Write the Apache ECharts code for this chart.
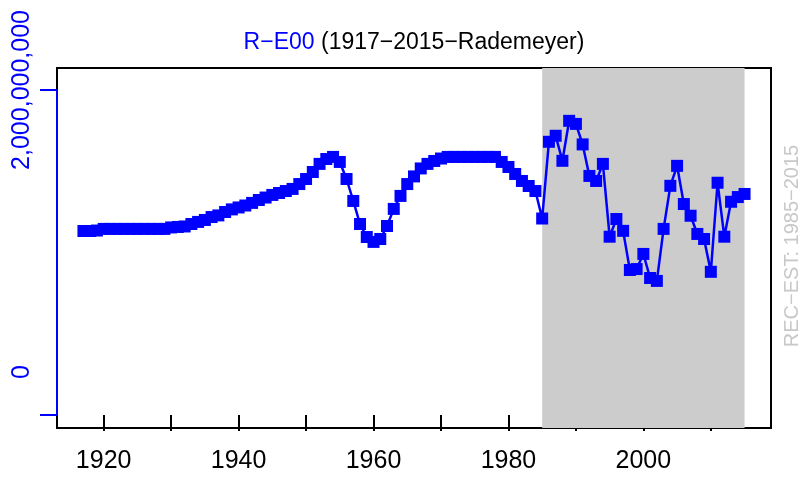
<!DOCTYPE html>
<html>
<head>
<meta charset="utf-8">
<script src="https://cdn.jsdelivr.net/npm/echarts@6/dist/echarts.min.js"></script>
<style>
html, body { margin: 0; padding: 0; background: #fff; }
#chart { width: 805px; height: 478px; }
</style>
</head>
<body>
<div id="chart"></div>
<script>
// biomass, millions, one value per year from firstYear
var firstYear = 1917;
var biomass = [
	1132, 1132, 1135,
	1145, 1145, 1145, 1145, 1145, 1145, 1145, 1145, 1145, 1145,
	1154, 1157, 1160, 1175, 1188, 1200, 1218, 1228, 1249, 1265,
	1277, 1289, 1305, 1323, 1338, 1354, 1366, 1378, 1391, 1421,
	1452, 1495, 1545, 1575, 1588, 1557, 1452, 1317, 1175, 1095,
	1065, 1083, 1163, 1268, 1348, 1421, 1468, 1517, 1545, 1563,
	1578, 1588, 1588, 1588, 1588, 1588, 1588, 1588, 1588, 1557,
	1526, 1483, 1440, 1409, 1378, 1209, 1681, 1718, 1564, 1810,
	1791, 1665, 1471, 1440, 1545, 1097, 1206, 1133, 892, 898,
	991, 843, 825, 1145, 1410, 1533, 1298, 1226, 1114, 1083,
	881, 1429, 1097, 1312, 1341, 1360
];
var recentPeriod = [1985, 2015];
var xTicks = [1920, 1930, 1940, 1950, 1960, 1970, 1980, 1990, 2000, 2010];
var xLabels = [1920, 1940, 1960, 1980, 2000];
var yTicks = [0, 2000000000];
var yLabelAt = [264000000, 2000000000];
var yLabelText = ['0', '2,000,000,000'];

(function () {
	var myChart = echarts.init(document.getElementById('chart'));
	var xMin = 1913.08, xMax = 2018.92;
	var points = biomass.map(function (v, i) { return [firstYear + i, v * 1e6]; });
	var font = 'Liberation Sans';
	var option = {
		animation: false,
		grid: {
			left: 57, right: 34, top: 68, bottom: 50,
			show: true, borderColor: '#000', borderWidth: 2, backgroundColor: 'transparent'
		},
		xAxis: {
			type: 'value', min: xMin, max: xMax,
			axisLine: { show: false },
			splitLine: { show: false },
			axisTick: { customValues: xTicks, length: 16, lineStyle: { color: '#000', width: 2 } },
			axisLabel: {
				customValues: xLabels, margin: 21, color: '#000', fontSize: 25, fontFamily: font,
				formatter: function (v) { return String(v); }
			}
		},
		yAxis: {
			type: 'value', min: -80000000, max: 2135000000,
			axisLine: { show: false },
			splitLine: { show: false },
			axisTick: { customValues: yTicks, length: 17, lineStyle: { color: '#0000ff', width: 2 } },
			axisLabel: {
				customValues: yLabelAt, rotate: 90, margin: 22, color: '#0000ff',
				fontSize: 25, fontFamily: font,
				formatter: function (v) { return yLabelText[yLabelAt.indexOf(v)]; }
			}
		},
		graphic: [
			{
				type: 'text', x: 414, y: 43,
				style: {
					text: '{a|R\u2212E00} {b|(1917\u22122015\u2212Rademeyer)}',
					align: 'center', verticalAlign: 'middle', font: '23px ' + font,
					rich: {
						a: { fill: '#0000ff', fontSize: 23, fontFamily: font },
						b: { fill: '#000', fontSize: 23, fontFamily: font }
					}
				}
			},
			{
				type: 'text', x: 792, y: 246, rotation: Math.PI / 2,
				style: {
					text: 'REC\u2212EST: 1985\u22122015', fill: '#c8c8c8',
					align: 'center', verticalAlign: 'middle', font: '20px ' + font
				}
			}
		],
		series: [
			{
				type: 'line', data: [], z: 1, silent: true,
				markArea: {
					silent: true,
					itemStyle: { color: '#cccccc' },
					data: [[{ xAxis: recentPeriod[0] }, { xAxis: recentPeriod[1] }]]
				},
				markLine: {
					silent: true, symbol: ['none', 'none'], label: { show: false },
					lineStyle: { color: '#0000ff', width: 2, type: 'solid' },
					data: [[{ coord: [xMin, yTicks[0]] }, { coord: [xMin, yTicks[1]] }]]
				}
			},
			{
				type: 'line', data: points, z: 3,
				symbol: 'rect', symbolSize: 12, showAllSymbol: true,
				itemStyle: { color: '#0000ff' },
				lineStyle: { color: '#0000ff', width: 2.5 }
			}
		]
	};
	myChart.setOption(option);
})();
</script>
</body>
</html>
